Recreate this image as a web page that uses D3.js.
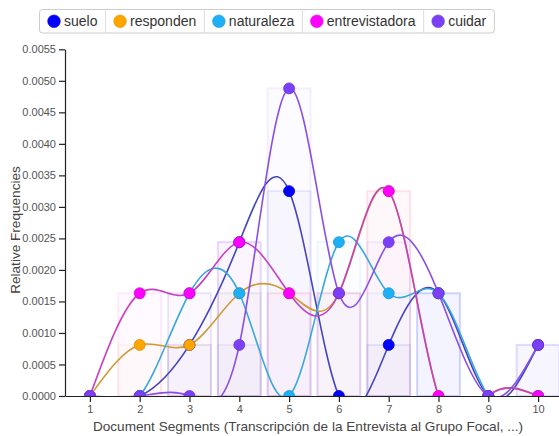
<!DOCTYPE html>
<html>
<head>
<meta charset="utf-8">
<script src="https://cdn.jsdelivr.net/npm/d3@7"></script>
<style>
  html, body { margin: 0; padding: 0; background: #fff; }
  svg { display: block; font-family: "Liberation Sans", Arial, sans-serif; }
</style>
</head>
<body>
<svg id="chart" width="559" height="436"></svg>
<script>
// ---- data ----
const segments = [1, 2, 3, 4, 5, 6, 7, 8, 9, 10];
const seriesNames = ["suelo", "responden", "naturaleza", "entrevistadora", "cuidar"];
const suelo          = [0, 0, 0.00081, 0.00244, 0.00325, 0, 0.00081, 0.00163, 0, 0.00081];
const responden      = [0, 0.00081, 0.00081, 0.00163, 0.00163, 0.00163, 0.00325, 0, 0, 0];
const naturaleza     = [0, 0, 0.00163, 0.00163, 0, 0.00244, 0.00163, 0.00163, 0, 0];
const entrevistadora = [0, 0.00163, 0.00163, 0.00244, 0.00163, 0.00163, 0.00325, 0, 0, 0];
const cuidar         = [0, 0, 0, 0.00081, 0.00488, 0.00163, 0.00244, 0.00163, 0, 0.00081];
const seriesValues = [suelo, responden, naturaleza, entrevistadora, cuidar];
const yTicks = [0, 0.0005, 0.001, 0.0015, 0.002, 0.0025, 0.003, 0.0035, 0.004, 0.0045, 0.005, 0.0055];
const xTitle = "Document Segments (Transcripción de la Entrevista al Grupo Focal, ...)";
const yTitle = "Relative Frequencies";

// ---- styles ----
const pointColors = ["#0000ff", "#ffa500", "#1eaff5", "#ff00ff", "#7b3ff5"];
const lineColors  = ["#4444c2", "#cf9a30", "#38a8dc", "#c640c2", "#8a4ee8"];

const svg = d3.select("#chart");
const x = d3.scaleLinear().domain([0.5, 10.5]).range([65, 563]);
const y = d3.scaleLinear().domain([0, 0.0055]).range([396, 49.3]);

svg.append("defs").append("clipPath").attr("id", "plotclip")
  .append("rect").attr("x", x(0.5)).attr("y", 0)
  .attr("width", 600).attr("height", y(0));

const plot = svg.append("g").attr("clip-path", "url(#plotclip)");

const series = seriesNames.map((name, i) => ({
  name, color: pointColors[i], line: lineColors[i],
  pts: segments.map((s, j) => ({ s, v: seriesValues[i][j] }))
}));

// bars
const bw = x(1.43) - x(0.57);
series.forEach(sr => {
  plot.append("g").selectAll("rect")
    .data(sr.pts.filter(d => d.v > 0))
    .join("rect")
    .attr("x", d => x(d.s) - bw / 2)
    .attr("width", bw)
    .attr("y", d => y(d.v))
    .attr("height", d => y(0) - y(d.v))
    .attr("fill", sr.color).attr("fill-opacity", 0.018)
    .attr("stroke", sr.color).attr("stroke-opacity", 0.08)
    .attr("stroke-width", 2);
});

// lines
const line = d3.line().x(d => x(d.s)).y(d => y(d.v)).curve(d3.curveNatural);
series.forEach(sr => {
  plot.append("path").datum(sr.pts)
    .attr("d", line)
    .attr("fill", "none")
    .attr("stroke", sr.line)
    .attr("stroke-width", 1.6);
});

// points
series.forEach(sr => {
  plot.append("g").selectAll("circle")
    .data(sr.pts)
    .join("circle")
    .attr("cx", d => x(d.s))
    .attr("cy", d => y(d.v))
    .attr("r", 5.5)
    .attr("fill", sr.color)
    .attr("stroke", d3.color(sr.color).darker(0.4))
    .attr("stroke-width", 0.8);
});

// axes
const yAxis = svg.append("g").attr("transform", `translate(${x(0.5)},0)`)
  .call(d3.axisLeft(y).tickValues(yTicks).tickFormat(d3.format(".4f")).tickSizeOuter(0));
const xAxis = svg.append("g").attr("transform", `translate(0,${y(0)})`)
  .call(d3.axisBottom(x).tickValues(segments).tickFormat(d3.format("d")).tickSizeOuter(0));
[yAxis, xAxis].forEach(a => {
  a.selectAll("path, line").attr("stroke", "#222").attr("stroke-width", 1.2);
  a.selectAll("text").attr("fill", "#555").style("font-size", "11px")
    .style("font-family", "'Liberation Sans', Arial, sans-serif");
});

// titles
svg.append("text")
  .attr("x", 308).attr("y", 431)
  .attr("text-anchor", "middle")
  .attr("fill", "#444").style("font-size", "13.6px")
  .text(xTitle);
svg.append("text")
  .attr("transform", `translate(20,230) rotate(-90)`)
  .attr("text-anchor", "middle")
  .attr("fill", "#444").style("font-size", "13.6px")
  .text(yTitle);

// legend
const lg = svg.append("g").attr("transform", "translate(39,9)");
const lgH = 23.5;
const border = lg.append("rect").attr("x", 0.5).attr("y", 0.5).attr("height", lgH)
  .attr("rx", 3).attr("fill", "#fff").attr("stroke", "#ccc");
let cx = 0;
const dividers = [];
series.forEach((sr, i) => {
  const g = lg.append("g").attr("transform", `translate(${cx},0)`);
  g.append("circle").attr("cx", 15).attr("cy", lgH / 2 + 0.5).attr("r", 6.3)
    .attr("fill", sr.color).attr("stroke", d3.color(sr.color).darker(0.3)).attr("stroke-width", 0.6);
  const t = g.append("text").attr("x", 25).attr("y", lgH / 2 + 5.5)
    .attr("fill", "#333").style("font-size", "14px").text(sr.name);
  const w = 25 + t.node().getComputedTextLength() + 7.6;
  cx += w;
  if (i < series.length - 1) dividers.push(cx);
});
border.attr("width", cx);
lg.selectAll("line.div").data(dividers).join("line")
  .attr("class", "div")
  .attr("x1", d => d + 0.5).attr("x2", d => d + 0.5)
  .attr("y1", 0.5).attr("y2", lgH + 0.5)
  .attr("stroke", "#ddd");
</script>
</body>
</html>
